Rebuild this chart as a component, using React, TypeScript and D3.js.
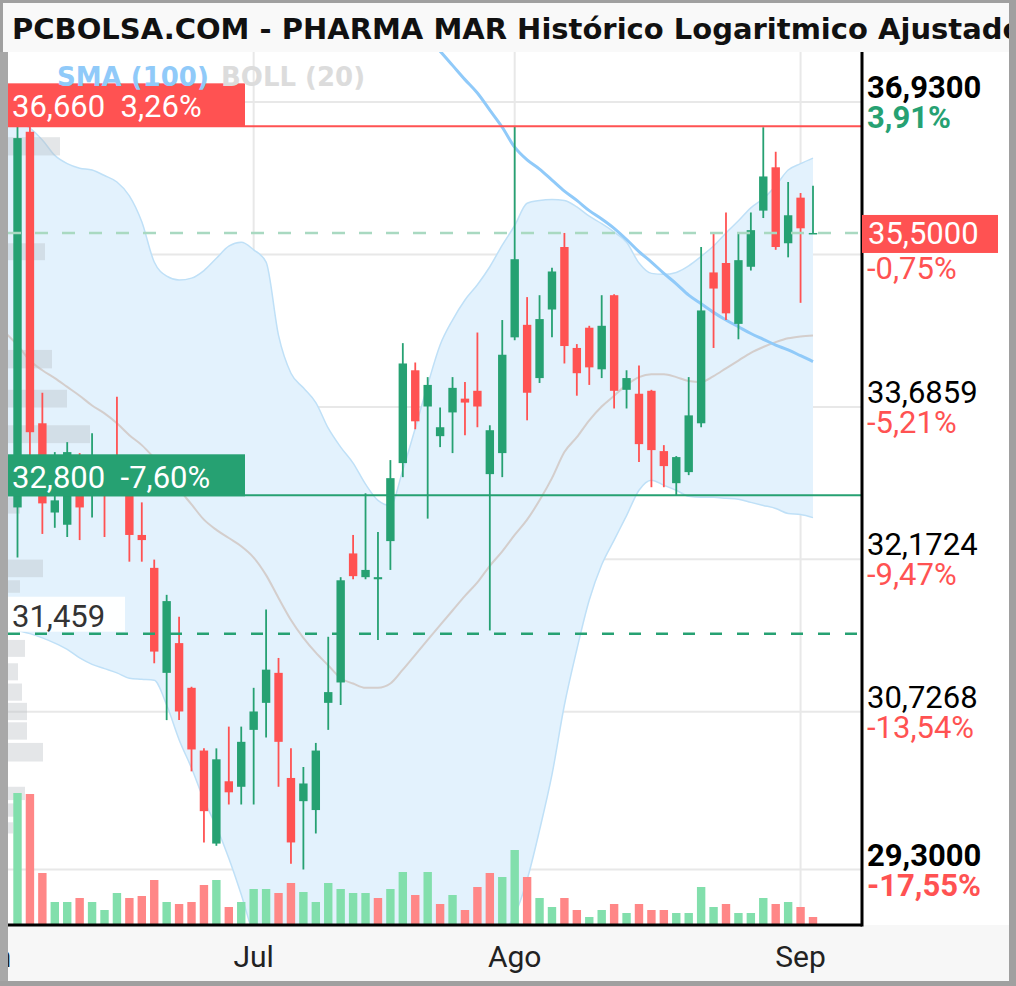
import React from "react";
import * as d3 from "d3";

// PHARMA MAR daily sessions, 6 Jun 2023 (index 0) to 4 Sep 2023 (index 64)
const opens = [
  32.68, 36.6, 33.52, 32.63, 32.51, 33.2, 32.85, 33.05, 33.2, 32.95,
  32.41, 32.09, 31.09, 31.37, 30.95, 30.37, 29.53, 30.09, 30.04, 30.56,
  30.81, 31.09, 30.12, 29.91, 29.83, 30.81, 31.0, 32.23, 32.0, 31.98,
  32.35, 33.12, 34.06, 33.69, 33.39, 33.63, 33.77, 33.85, 33.01, 33.22,
  34.4, 34.53, 33.98, 34.69, 35.35, 34.29, 34.5, 34.07, 34.84, 33.86,
  33.82, 33.85, 33.24, 32.92, 33.03, 33.52, 35.08, 35.18, 34.54, 35.14,
  35.74, 36.21, 35.39, 35.88, 35.5,
];
const highs = [
  36.66, 36.66, 33.83, 33.23, 33.33, 33.22, 33.42, 33.06, 33.79, 33.0,
  32.73, 32.17, 31.83, 31.62, 30.96, 30.39, 30.39, 30.59, 30.59, 30.95,
  31.69, 31.23, 30.39, 30.22, 30.44, 31.43, 32.0, 32.41, 32.82, 32.44,
  33.15, 34.34, 34.14, 33.99, 33.68, 33.99, 33.94, 34.45, 33.5, 34.58,
  36.66, 34.82, 34.84, 35.13, 35.5, 34.33, 34.52, 34.84, 34.85, 34.06,
  34.11, 33.86, 33.3, 33.19, 33.99, 35.35, 35.5, 35.72, 35.5, 35.72,
  36.65, 36.38, 36.05, 35.93, 36.01,
];
const lows = [
  32.19, 33.2, 32.42, 32.48, 32.39, 32.36, 32.58, 32.39, 32.85, 32.15,
  32.15, 31.18, 30.65, 30.65, 30.18, 29.54, 29.51, 29.88, 29.88, 29.88,
  30.49, 30.04, 29.35, 29.3, 29.62, 30.56, 30.79, 31.98, 31.98, 31.4,
  32.07, 32.98, 33.46, 32.57, 33.28, 33.22, 33.4, 33.48, 31.49, 32.98,
  34.37, 33.55, 33.93, 34.4, 34.13, 33.8, 33.91, 33.98, 33.67, 33.67,
  33.13, 32.88, 32.88, 32.8, 33.0, 33.48, 34.29, 34.58, 34.38, 35.1,
  35.66, 35.32, 35.24, 34.76, 35.5,
];
const closes = [
  36.53, 33.43, 32.72, 32.75, 33.23, 32.68, 32.9, 32.95, 33.0, 32.41,
  32.36, 31.29, 31.77, 30.73, 30.38, 29.82, 30.29, 29.99, 30.45, 30.73,
  31.12, 30.45, 29.54, 30.07, 30.37, 30.91, 31.97, 32.01, 32.07, 32.0,
  32.97, 34.13, 33.54, 33.91, 33.48, 33.88, 33.73, 33.69, 33.45, 34.22,
  35.22, 33.83, 34.59, 35.09, 34.31, 34.03, 34.09, 34.52, 33.85, 33.98,
  33.31, 33.25, 33.09, 33.18, 33.6, 34.68, 34.91, 34.65, 35.21, 35.53,
  36.11, 35.35, 35.69, 35.55, 35.5,
];
// traded volume, thousands of shares
const volumes = [
  660, 655, 260, 115, 115, 135, 115, 75, 160, 135,
  145, 225, 115, 105, 115, 200, 225, 90, 115, 180,
  180, 160, 210, 165, 115, 210, 180, 160, 160, 135,
  180, 265, 150, 265, 105, 150, 75, 190, 260, 240,
  375, 240, 135, 90, 135, 75, 40, 75, 105, 60,
  105, 75, 75, 60, 60, 190, 90, 105, 60, 60,
  135, 105, 115, 90, 40,
];

// Bollinger (20) bands, from the session before index 0 (5 Jun)
const bandStart = -1;
const bollUpper = [
  36.8,
  36.73, 36.64, 36.51, 36.34, 36.25, 36.2, 36.18, 36.12, 36.05, 35.9,
  35.62, 35.19, 35.04, 35.0, 35.02, 35.1, 35.23, 35.36, 35.4, 35.32,
  35.19, 34.42, 34.03, 33.88, 33.73, 33.47, 33.28, 33.12, 32.91, 32.75,
  32.7, 33.05, 33.47, 33.91, 34.32, 34.58, 34.79, 34.95, 35.14, 35.37,
  35.58, 35.82, 35.85, 35.86, 35.85, 35.78, 35.68, 35.6, 35.51, 35.4,
  35.18, 35.07, 35.06, 35.08, 35.15, 35.25, 35.36, 35.5, 35.63, 35.77,
  35.87, 36.01, 36.18, 36.25, 36.31,
];
const bollMiddle = [
  34.45,
  34.32, 34.16, 34.06, 33.98, 33.89, 33.8, 33.7, 33.62, 33.52, 33.4,
  33.3, 33.17, 33.03, 32.86, 32.71, 32.56, 32.46, 32.38, 32.3, 32.19,
  32.02, 31.8, 31.59, 31.42, 31.28, 31.16, 31.04, 30.99, 30.95, 30.95,
  30.99, 31.12, 31.26, 31.4, 31.54, 31.68, 31.82, 31.95, 32.11, 32.25,
  32.41, 32.56, 32.75, 32.97, 33.23, 33.38, 33.55, 33.69, 33.8, 33.91,
  33.99, 34.02, 34.02, 33.99, 33.95, 33.94, 34.0, 34.08, 34.16, 34.24,
  34.3, 34.35, 34.39, 34.41, 34.42,
];
const bollLower = [
  31.52,
  31.49, 31.46, 31.42, 31.37, 31.31, 31.23, 31.17, 31.13, 31.09, 31.04,
  31.03, 31.02, 30.79, 30.47, 30.21, 29.92, 29.68, 29.4, 29.08, 28.73,
  28.56, 28.43, 28.35, 28.3, 28.27, 28.25, 28.25, 28.25, 28.25, 28.25,
  28.25, 28.25, 28.25, 28.25, 28.27, 28.3, 28.35, 28.43, 28.56, 28.73,
  28.9, 29.21, 29.65, 30.15, 30.79, 31.31, 31.78, 32.12, 32.36, 32.6,
  32.85, 32.95, 32.9, 32.85, 32.79, 32.78, 32.78, 32.77, 32.76, 32.73,
  32.7, 32.67, 32.62, 32.61, 32.58,
];
// SMA (100), from session 33 onwards (earlier values lie above the panel)
const smaStart = 33;
const sma100 = [
  37.65, 37.5, 37.34, 37.18, 37.03, 36.84, 36.65, 36.43, 36.29, 36.19,
  36.07, 35.95, 35.85, 35.74, 35.65, 35.55, 35.43, 35.3, 35.19, 35.07,
  34.96, 34.84, 34.75, 34.66, 34.58, 34.51, 34.44, 34.38, 34.32, 34.27,
  34.21, 34.15,
];

// volume-at-price profile: price bins and relative volume
const profileHigh = [36.54, 35.39, 34.27, 33.86, 33.5, 32.78, 32.17, 31.97, 31.4, 31.18, 30.99, 30.81, 30.63, 30.44, 30.04, 29.89, 29.72];
const profileLow = [36.34, 35.21, 34.08, 33.68, 33.32, 32.62, 32.0, 31.85, 31.24, 31.02, 30.83, 30.65, 30.47, 30.27, 29.92, 29.77, 29.62];
const profileVol = [52, 37, 44, 59, 82, 12, 35, 12, 17, 10, 14, 19, 19, 35, 17, 12, 5];

// axis
const axisValues = [36.93, 33.6859, 32.1724, 30.7268, 29.3];
const axisPct = ["3,91%", "-5,21%", "-9,47%", "-13,54%", "-17,55%"];
const axisBold = [true, false, false, false, true];
const gridValues = [36.93, 35.27, 33.6859, 32.1724, 30.7268, 29.3];
const monthLabels = ["Jun", "Jul", "Ago", "Sep"];
const monthStart = [-2.5, 19, 40, 63];

// reference levels
const maxLevel = 36.66;
const maxPct = "3,26%";
const minLevel = 32.8;
const minPct = "-7,60%";
const supportLevel = 31.459;
const lastPrice = 35.5;
const lastPct = "-0,75%";

const TITLE = "PCBOLSA.COM - PHARMA MAR Histórico Logaritmico Ajustado";

const GREEN = "#26a172";
const RED = "#ff5252";
const VOL_GREEN = "#82dfac";
const VOL_RED = "#ff8787";
const FONT = "Roboto, 'DejaVu Sans', sans-serif";
const WIDE_BOLD = "'DejaVu Sans', sans-serif";

const es = d3.formatLocale({ decimal: ",", thousands: ".", grouping: [3], currency: ["", " €"] });
const f4 = es.format(".4f");
const f3 = es.format(".3f");

export default function App() {
  const W = 1016;
  const H = 986;
  const L = 8, R = 862, T = 52, B = 925;
  const n = closes.length;

  const x = d3.scaleLinear().domain([0, n - 1]).range([17.5, 813]);
  const y = d3.scaleLog().domain([29.3, 36.93]).range([869.5, 102]);
  const vy = d3.scaleLinear().domain([0, 700]).range([B, B - 140]);
  const pw = d3.scaleLinear().domain([0, 100]).range([0, 100]);
  const idx = d3.range(n);
  const bandIdx = d3.range(bollUpper.length);

  const band = d3
    .area<number>()
    .x((j) => x(j + bandStart))
    .y0((j) => y(bollLower[j]))
    .y1((j) => y(bollUpper[j]))
    .curve(d3.curveMonotoneX);
  const line = (vals: number[], offset = 0) =>
    d3
      .line<number>()
      .x((_, i) => x(i + offset))
      .y((v) => y(v))
      .curve(d3.curveMonotoneX)(vals) || "";

  const bodyW = 8.4;
  const pre = { whiteSpace: "pre" as const };

  return (
    <div style={{ position: "absolute", left: 0, top: 0 }}>
      <svg width={W} height={H} style={{ display: "block", fontFamily: FONT }}>
        <defs>
          <clipPath id="plotClip">
            <rect x={L} y={T} width={R - L} height={B - T} />
          </clipPath>
        </defs>
        <rect x={0} y={0} width={W} height={H} fill="#ffffff" />
        {/* title band and date band */}
        <rect x={0} y={0} width={W} height={T} fill="#f9f9f9" />
        <rect x={0} y={B} width={W} height={H - B} fill="#f7f7f7" />
        <text x={12} y={39} fontFamily={WIDE_BOLD} fontWeight={700} fontSize={29} fill="#111">
          {TITLE}
        </text>

        <g clipPath="url(#plotClip)">
          {/* grid */}
          {gridValues.map((v, i) => (
            <line key={"gy" + i} x1={L} x2={R} y1={y(v)} y2={y(v)} stroke="#e8e8e8" strokeWidth={2} />
          ))}
          {monthStart.map((m, i) => (
            <line key={"gx" + i} x1={x(Math.round(m))} x2={x(Math.round(m))} y1={T} y2={B} stroke="#e8e8e8" strokeWidth={2} />
          ))}

          {/* Bollinger band */}
          <path d={band(bandIdx) || ""} fill="#e3f2fd" />
          <path d={line(bollUpper, bandStart)} fill="none" stroke="#bfe0f7" strokeWidth={1.5} />
          <path d={line(bollLower, bandStart)} fill="none" stroke="#bfe0f7" strokeWidth={1.5} />
          <path d={line(bollMiddle, bandStart)} fill="none" stroke="#cfc4bf" strokeWidth={2} opacity={0.8} />

          {/* volume profile */}
          {profileVol.map((v, i) => (
            <rect
              key={"pf" + i}
              x={L}
              y={y(profileHigh[i])}
              width={pw(v)}
              height={y(profileLow[i]) - y(profileHigh[i])}
              fill="rgba(185,190,195,0.38)"
            />
          ))}

          {/* volume */}
          {volumes.map((v, i) => {
            const up = i === 0 ? closes[i] >= opens[i] : closes[i] >= closes[i - 1];
            return (
              <rect
                key={"v" + i}
                x={x(i) - bodyW / 2}
                y={vy(v)}
                width={bodyW}
                height={B - vy(v)}
                fill={up ? VOL_GREEN : VOL_RED}
              />
            );
          })}

          {/* SMA (100) */}
          <path d={line(sma100, smaStart)} fill="none" stroke="#90caf9" strokeWidth={3} />

          {/* candles */}
          {idx.map((i) => {
            const up = closes[i] >= opens[i];
            const c = up ? GREEN : RED;
            const top = y(Math.max(opens[i], closes[i]));
            const bot = y(Math.min(opens[i], closes[i]));
            return (
              <g key={"c" + i}>
                <line x1={x(i)} x2={x(i)} y1={y(highs[i])} y2={y(lows[i])} stroke={c} strokeWidth={1.8} />
                <rect x={x(i) - bodyW / 2} y={top} width={bodyW} height={Math.max(1.5, bot - top)} fill={c} />
              </g>
            );
          })}

          {/* reference levels */}
          <line x1={L} x2={R} y1={y(lastPrice)} y2={y(lastPrice)} stroke="#a9d9c1" strokeWidth={2.5} strokeDasharray="13 14" />
          <line x1={L} x2={R} y1={y(supportLevel)} y2={y(supportLevel)} stroke={GREEN} strokeWidth={2.5} strokeDasharray="12 15" />
          <line x1={L} x2={R} y1={y(maxLevel)} y2={y(maxLevel)} stroke={RED} strokeWidth={2} />
          <line x1={L} x2={R} y1={y(minLevel)} y2={y(minLevel)} stroke={GREEN} strokeWidth={2} />

          <rect x={L} y={y(maxLevel) - 43} width={237} height={43} fill={RED} />
          <text x={12} y={y(maxLevel) - 9} fontSize={31} fill="#fff" style={pre}>
            {f3(maxLevel) + "  " + maxPct}
          </text>
          <rect x={L} y={y(minLevel) - 41} width={237} height={42} fill={GREEN} />
          <text x={12} y={y(minLevel) - 7} fontSize={31} fill="#fff" style={pre}>
            {f3(minLevel) + "  " + minPct}
          </text>
          <rect x={L} y={y(supportLevel) - 37} width={117} height={35} fill="#ffffff" opacity={0.95} />
          <text x={12} y={y(supportLevel) - 7} fontSize={31} fill="#333">
            {f3(supportLevel)}
          </text>

          {/* legend */}
          <text x={57} y={86} fontFamily={WIDE_BOLD} fontSize={26} fontWeight={700} fill="#90caf9" style={pre}>
            SMA (100)
          </text>
          <text x={221} y={86} fontFamily={WIDE_BOLD} fontSize={26} fontWeight={700} fill="#dcdcdc" style={pre}>
            BOLL (20)
          </text>
        </g>

        {/* axes */}
        <line x1={R} x2={R} y1={T} y2={B + 1.5} stroke="#000" strokeWidth={3} />
        <line x1={L} x2={R} y1={B} y2={B} stroke="#000" strokeWidth={3} />

        {axisValues.map((v, i) => (
          <g key={"ax" + i} fontWeight={axisBold[i] ? 700 : 400}>
            <text x={867} y={y(v) - 4} fontSize={31} fill="#000">
              {f4(v)}
            </text>
            <text x={867} y={y(v) + 26} fontSize={31} fill={axisPct[i].startsWith("-") ? RED : GREEN}>
              {axisPct[i]}
            </text>
          </g>
        ))}
        <rect x={R} y={y(lastPrice) - 18} width={136} height={38} fill={RED} />
        <text x={868} y={y(lastPrice) + 11} fontSize={31} fill="#fff">
          {f4(lastPrice)}
        </text>
        <text x={867} y={y(lastPrice) + 46} fontSize={31} fill={RED}>
          {lastPct}
        </text>

        {monthLabels.map((m, i) => (
          <text key={"m" + i} x={x(monthStart[i])} y={967} fontSize={30} fill="#222" textAnchor="middle">
            {m}
          </text>
        ))}

        {/* frame */}
        <rect x={0} y={0} width={W} height={3} fill="#a0a0a0" />
        <rect x={0} y={0} width={3} height={H} fill="#a0a0a0" />
        <rect x={0} y={T} width={L} height={H - T} fill="#a8a8a8" />
        <rect x={1009} y={0} width={7} height={H} fill="#a0a0a0" />
        <rect x={0} y={981} width={W} height={5} fill="#a0a0a0" />
      </svg>
    </div>
  );
}
